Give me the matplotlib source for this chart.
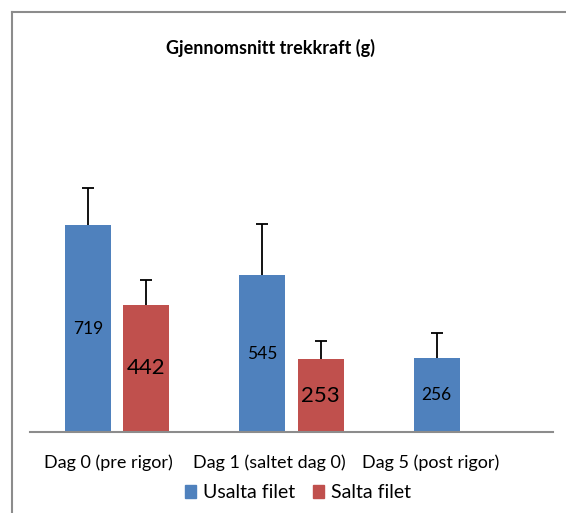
import matplotlib
matplotlib.use('Agg')
import matplotlib.pyplot as plt
import numpy as np
from matplotlib.lines import Line2D
from matplotlib.patches import Patch

plt.rcParams['font.family'] = ['Lato', 'DejaVu Sans']

# Data
categories = ['Dag 0 (pre rigor)', 'Dag 1 (saltet dag 0)', 'Dag 5 (post rigor)']
usalta = [719, 545, 256]
usalta_err = [128, 177, 87]
salta = [442, 253, np.nan]
salta_err = [87, 62, np.nan]
series_names = ['Usalta filet', 'Salta filet']

blue = '#4F81BD'
red = '#C0504D'
grey = '#8C8C8C'

W, H = 566, 513
fig = plt.figure(figsize=(W / 100, H / 100), dpi=100)

# outer chart frame (only left and top visible in the crop)
fig.add_artist(Line2D([12 / W, 12 / W], [0, 1 - 12 / H], color=grey, lw=1.5))
fig.add_artist(Line2D([12 / W, 1], [1 - 12 / H, 1 - 12 / H], color=grey, lw=1.5))

ax = fig.add_axes([30 / W, 81 / H, 523 / W, 345 / H])
x = np.arange(len(categories))
off, bw = 0.167, 0.264
ekw = dict(ecolor='black', elinewidth=1.3, capsize=4.5, capthick=1.3)

# error bars only upwards, as in Excel "plus" style
b1 = ax.bar(x - off, usalta, bw, color=blue,
            yerr=[np.zeros(len(usalta)), usalta_err], error_kw=ekw)
mask = ~np.isnan(salta)
s_vals = np.array(salta)[mask]
s_err = np.array(salta_err)[mask]
b2 = ax.bar(x[mask] + off, s_vals, bw, color=red,
            yerr=[np.zeros(len(s_vals)), s_err], error_kw=ekw)
# hide the lower caps
for b in (b1, b2):
    b.errorbar.lines[1][0].set_visible(False)

# value labels in the middle of each bar
for xi, v in zip(x, usalta):
    ax.text(xi - off, v / 2, f'{v:.0f}', ha='center', va='center', fontsize=12.5)
for xi, v in zip(x[mask], s_vals):
    ax.text(xi + off, v / 2, f'{v:.0f}', ha='center', va='center', fontsize=16)

ax.set_xlim(-0.5, 2.5)
ax.set_ylim(0, 1200)
ax.set_yticks([])
for s in ['left', 'right', 'top']:
    ax.spines[s].set_visible(False)
ax.spines['bottom'].set_color(grey)
ax.spines['bottom'].set_linewidth(1.5)

# Excel squeezes the category labels slightly toward the left
ax.set_xticks(x * 0.925 - 0.05)
ax.set_xticklabels(categories, fontsize=13)
ax.tick_params(axis='x', length=0, pad=16)

fig.text(270 / W, 1 - 48 / H, 'Gjennomsnitt trekkraft (g)', ha='center', va='center',
         fontsize=13, fontweight='bold')

handles = [Patch(color=blue), Patch(color=red)]
fig.legend(handles, series_names, loc='center', bbox_to_anchor=(298 / W, 1 - 493 / H),
           ncol=2, frameon=False, fontsize=14, handlelength=0.6, handleheight=0.6,
           handletextpad=0.35, columnspacing=0.9)

fig.savefig('out.png', dpi=100)
